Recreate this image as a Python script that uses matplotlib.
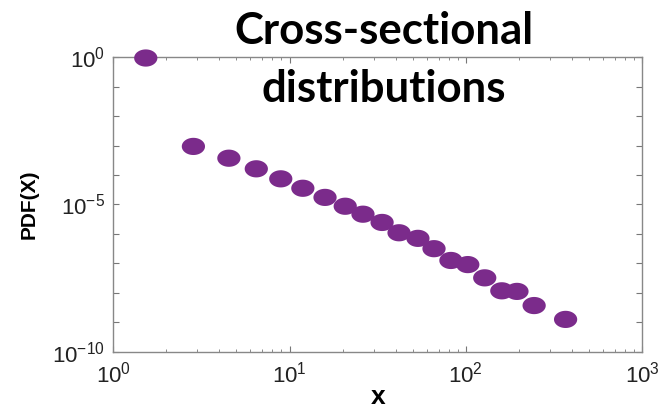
import numpy as np
import matplotlib
matplotlib.use('Agg')
import matplotlib.pyplot as plt
from matplotlib.path import Path
from matplotlib.ticker import FixedLocator, FuncFormatter, LogLocator, NullFormatter

# values
x_vals = [1.53, 2.85, 4.53, 6.48, 8.92, 11.9, 15.9, 20.7, 26.1, 33.5,
          41.8, 53.5, 66.0, 82.3, 102.6, 128, 160, 195, 244, 368]
pdf_exp = [-0.03, -3.03, -3.43, -3.79, -4.13, -4.45, -4.76, -5.06, -5.33, -5.61,
           -5.96, -6.15, -6.50, -6.90, -7.04, -7.49, -7.93, -7.95, -8.43, -8.90]
pdf_vals = [10.0 ** e for e in pdf_exp]

title_lines = ['Cross-sectional', 'distributions']

plt.rcParams['font.family'] = ['Liberation Sans', 'DejaVu Sans']
plt.rcParams['mathtext.fontset'] = 'custom'
plt.rcParams['mathtext.rm'] = 'Liberation Sans'
plt.rcParams['mathtext.it'] = 'Liberation Sans'

# slightly wide ellipse marker (picture is stretched sideways)
t = np.linspace(0, 2 * np.pi, 60)
ellipse = Path(np.column_stack([1.35 * np.cos(t), np.sin(t)]), closed=True)

fig = plt.figure(figsize=(6.62, 4.11), dpi=100)
ax = fig.add_axes([0.171, 0.144, 0.799, 0.717])

ax.scatter(x_vals, pdf_vals, marker=ellipse, s=280, color='#7b2b8b',
           edgecolors='none', clip_on=False, zorder=3)

ax.set_xscale('log')
ax.set_yscale('log')
ax.set_xlim(1, 1000)
ax.set_ylim(1e-10, 1)

ax.xaxis.set_major_locator(FixedLocator([1, 10, 100, 1000]))
ax.xaxis.set_minor_locator(LogLocator(base=10, subs=np.arange(2, 10)))
ax.xaxis.set_minor_formatter(NullFormatter())
ax.xaxis.set_major_formatter(FuncFormatter(lambda v, p: r'$10^{%d}$' % round(np.log10(v))))

ax.yaxis.set_major_locator(FixedLocator([10.0 ** k for k in range(-10, 1)]))
ax.yaxis.set_minor_locator(FixedLocator([]))
ax.yaxis.set_major_formatter(FuncFormatter(
    lambda v, p: r'$10^{%d}$' % round(np.log10(v)) if round(np.log10(v)) % 5 == 0 else ''))

ax.tick_params(which='both', direction='in', top=True, right=True, color='#777777',
               labelsize=16, labelcolor='#222222')
ax.tick_params(which='major', length=4)
ax.tick_params(which='minor', length=2.5)
ax.tick_params(axis='x', pad=7)
ax.tick_params(axis='y', pad=6)
for s in ax.spines.values():
    s.set_color('#888888')
    s.set_linewidth(1)

ax.set_ylabel('PDF(X)', fontsize=15, fontweight='bold', labelpad=10)
ax.set_xlabel('x', fontsize=19, fontweight='bold', labelpad=-2)

for line, yb in zip(title_lines, [0.893, 0.752]):
    fig.text(0.580, yb, line, ha='center', va='baseline', fontsize=31.5,
             fontweight='bold', family=['Lato', 'DejaVu Sans'])

fig.savefig('out.png', dpi=100)
